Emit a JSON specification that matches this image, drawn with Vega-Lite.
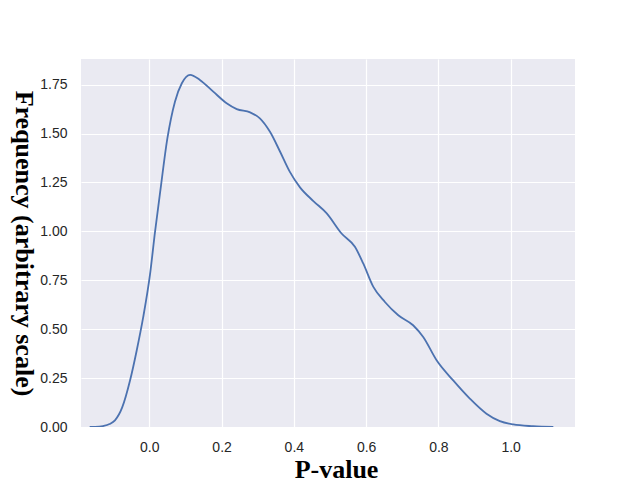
{
  "$schema": "https://vega.github.io/schema/vega-lite/v6.json",
  "width": 494,
  "height": 368,
  "autosize": {"type": "none"},
  "padding": {"left": 81, "top": 59, "right": 65, "bottom": 53},
  "background": "white",
  "config": {
    "view": {"fill": "#EAEAF2", "stroke": null},
    "axis": {
      "grid": true,
      "gridColor": "white",
      "gridWidth": 1.2,
      "domain": false,
      "ticks": false,
      "labelFont": "Liberation Sans",
      "labelFontSize": 14,
      "labelColor": "#262626",
      "titleFont": "Liberation Serif",
      "titleFontWeight": "bold",
      "titleFontSize": 26,
      "titleColor": "black"
    }
  },
  "data": {
    "values": [
      {"p": -0.165, "f": 0.0},
      {"p": -0.15, "f": 0.0005},
      {"p": -0.128, "f": 0.005},
      {"p": -0.11, "f": 0.015},
      {"p": -0.095, "f": 0.034},
      {"p": -0.075, "f": 0.1},
      {"p": -0.053, "f": 0.24},
      {"p": -0.035, "f": 0.39},
      {"p": -0.017, "f": 0.56},
      {"p": 0.002, "f": 0.78},
      {"p": 0.016, "f": 1.0},
      {"p": 0.03, "f": 1.2},
      {"p": 0.05, "f": 1.475},
      {"p": 0.071, "f": 1.663},
      {"p": 0.09, "f": 1.757},
      {"p": 0.113, "f": 1.8},
      {"p": 0.14, "f": 1.774},
      {"p": 0.177, "f": 1.714},
      {"p": 0.214, "f": 1.655},
      {"p": 0.242, "f": 1.625},
      {"p": 0.279, "f": 1.608},
      {"p": 0.306, "f": 1.578},
      {"p": 0.334, "f": 1.509},
      {"p": 0.362, "f": 1.407},
      {"p": 0.389, "f": 1.304},
      {"p": 0.417, "f": 1.225},
      {"p": 0.454, "f": 1.155},
      {"p": 0.491, "f": 1.092},
      {"p": 0.532, "f": 0.989},
      {"p": 0.569, "f": 0.921},
      {"p": 0.592, "f": 0.836},
      {"p": 0.62, "f": 0.716},
      {"p": 0.652, "f": 0.639},
      {"p": 0.689, "f": 0.571},
      {"p": 0.73, "f": 0.52},
      {"p": 0.758, "f": 0.46},
      {"p": 0.795, "f": 0.341},
      {"p": 0.841, "f": 0.238},
      {"p": 0.887, "f": 0.145},
      {"p": 0.933, "f": 0.068},
      {"p": 0.97, "f": 0.03},
      {"p": 1.007, "f": 0.013},
      {"p": 1.062, "f": 0.004},
      {"p": 1.118, "f": 0.0}
    ]
  },
  "mark": {"type": "line", "color": "#4C72B0", "strokeWidth": 1.8, "interpolate": "monotone", "clip": true},
  "encoding": {
    "x": {
      "field": "p",
      "type": "quantitative",
      "scale": {"domain": [-0.189, 1.178], "nice": false, "zero": false},
      "axis": {"values": [0, 0.2, 0.4, 0.6, 0.8, 1.0], "format": ".1f", "labelPadding": 13, "title": "P-value", "titleX": 255, "titleY": 50, "titleAlign": "center", "titleBaseline": "alphabetic"}
    },
    "y": {
      "field": "f",
      "type": "quantitative",
      "scale": {"domain": [0, 1.881], "nice": false},
      "axis": {"values": [0, 0.25, 0.5, 0.75, 1.0, 1.25, 1.5, 1.75], "format": ".2f", "labelPadding": 14, "title": "Frequency (arbitrary scale)", "titleAngle": 90, "titleX": -66, "titleY": 184, "titleAlign": "center", "titleBaseline": "alphabetic"}
    }
  }
}
